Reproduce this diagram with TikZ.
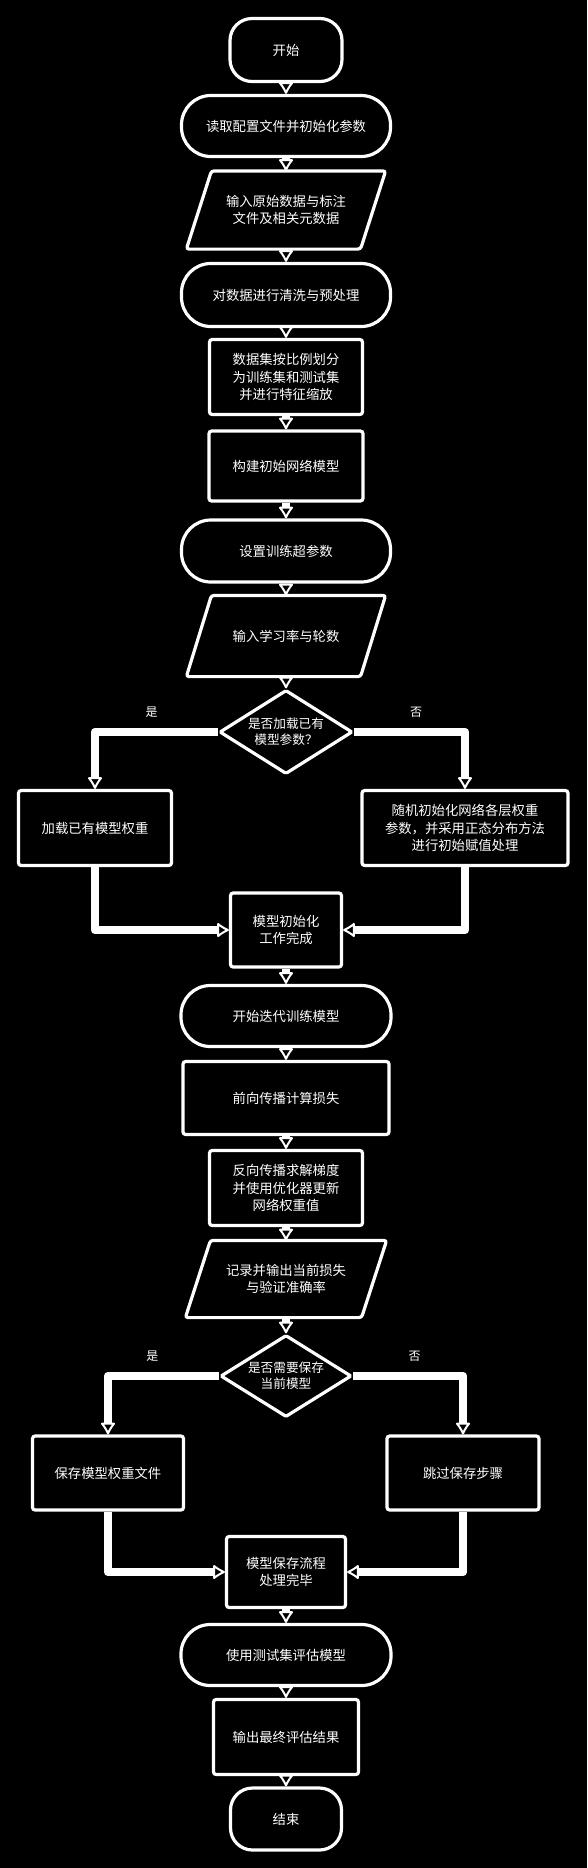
\documentclass[tikz,border=0pt]{standalone}
\usepackage{fontspec}
\setmainfont{Noto Sans CJK SC}
\usetikzlibrary{arrows.meta,shapes.geometric,calc}
\begin{document}
\begin{tikzpicture}[x=0.75pt,y=-0.75pt,
  base/.style={draw=white, line width=2.4pt, text=white, font=\fontsize{10}{13}\selectfont, align=center, inner sep=2pt},
  startend/.style={base, rounded corners=16.5pt},
  term/.style={base, rounded corners=22pt},
  proc/.style={base, rounded corners=2pt},
  iobox/.style={base, draw=none},
  para/.style={draw=white, line width=2.4pt, rounded corners=2pt},
  dec/.style={base, diamond, aspect=1.6, inner sep=0pt, rounded corners=1pt, font=\fontsize{9.5}{12}\selectfont},
  sz/.style 2 args={minimum width=#1*0.75pt, minimum height=#2*0.75pt},
  conn/.style={draw=white, line width=6.5pt, line join=round,
    -{Latex[length=10pt,width=12.5pt,round,fill=black,line width=1.5pt]}},
  lbl/.style={text=white, font=\fontsize{9}{10}\selectfont, inner sep=1pt}
]
\fill[black] (0,0) rectangle (587,1868);
\useasboundingbox (0,0) rectangle (587,1868);

% main column, first part
\node[startend, sz={112}{63}] (n1) at (286,50) {开始};
\node[term, sz={209}{61}] (n2) at (286,126) {读取配置文件并初始化参数};
\node[iobox, sz={171}{75}] (n3) at (286,210) {输入原始数据与标注\\文件及相关元数据};
\node[term, sz={209}{63}] (n4) at (286,295) {对数据进行清洗与预处理};
\node[proc, sz={153}{75}] (n5) at (286,377) {数据集按比例划分\\为训练集和测试集\\并进行特征缩放};
\node[proc, sz={154}{70}] (n6) at (286,466) {构建初始网络模型};
\node[term, sz={209}{62}] (n7) at (286,551) {设置训练超参数};
\node[iobox, sz={171}{78}] (n8) at (286,636) {输入学习率与轮数};
\node[dec, sz={133}{84}] (d1) at (286,732) {是否加载已有\\模型参数？};
\node[proc, sz={153}{75}] (l1) at (95,828) {加载已有模型权重};
\node[proc, sz={206}{75}] (r1) at (465,828) {随机初始化网络各层权重\\参数，并采用正态分布方法\\进行初始赋值处理};
\node[proc, sz={111}{74}] (m1) at (286,930) {模型初始化\\工作完成};

% main column, second part
\node[term, sz={210}{61}] (n13) at (286,1016) {开始迭代训练模型};
\node[proc, sz={206}{73}] (n14) at (286,1098) {前向传播计算损失};
\node[proc, sz={153}{75}] (n15) at (286,1188) {反向传播求解梯度\\并使用优化器更新\\网络权重值};
\node[iobox, sz={173}{74}] (n16) at (286,1279) {记录并输出当前损失\\与验证准确率};
\node[dec, sz={131}{82}] (d2) at (286,1376) {是否需要保存\\当前模型};
\node[proc, sz={151}{74}] (l2) at (108,1473) {保存模型权重文件};
\node[proc, sz={152}{74}] (r2) at (463,1473) {跳过保存步骤};
\node[proc, sz={119}{71}] (m2) at (286,1572) {模型保存流程\\处理完毕};
\node[term, sz={210}{61}] (n21) at (286,1655) {使用测试集评估模型};
\node[proc, sz={145}{75}] (n22) at (286,1737) {输出最终评估结果};
\node[startend, sz={111}{62}] (n23) at (286,1819) {结束};

% parallelograms
\foreach \p in {n3,n8,n16}{
  \draw[para] ([xshift=9.4pt]\p.north west) -- ([xshift=9.4pt]\p.north east)
    -- ([xshift=-9.4pt]\p.south east) -- ([xshift=-9.4pt]\p.south west) -- cycle;
}

% connectors
\draw[conn] (n1) -- (n2);
\draw[conn] (n2) -- (n3);
\draw[conn] (n3) -- (n4);
\draw[conn] (n4) -- (n5);
\draw[conn] (n5) -- (n6);
\draw[conn] (n6) -- (n7);
\draw[conn] (n7) -- (n8);
\draw[conn] (n8) -- (d1);
\draw[conn] (d1.west) -| node[lbl, above=6.5pt, pos=0.27] {是} (l1.north);
\draw[conn] (d1.east) -| node[lbl, above=6.5pt, pos=0.28] {否} (r1.north);
\draw[conn] (l1.south) |- (m1.west);
\draw[conn] (r1.south) |- (m1.east);
\draw[conn] (m1) -- (n13);
\draw[conn] (n13) -- (n14);
\draw[conn] (n14) -- (n15);
\draw[conn] (n15) -- (n16);
\draw[conn] (n16) -- (d2);
\draw[conn] (d2.west) -| node[lbl, above=6.5pt, pos=0.3] {是} (l2.north);
\draw[conn] (d2.east) -| node[lbl, above=6.5pt, pos=0.28] {否} (r2.north);
\draw[conn] (l2.south) |- (m2.west);
\draw[conn] (r2.south) |- (m2.east);
\draw[conn] (m2) -- (n21);
\draw[conn] (n21) -- (n22);
\draw[conn] (n22) -- (n23);
\end{tikzpicture}
\end{document}
